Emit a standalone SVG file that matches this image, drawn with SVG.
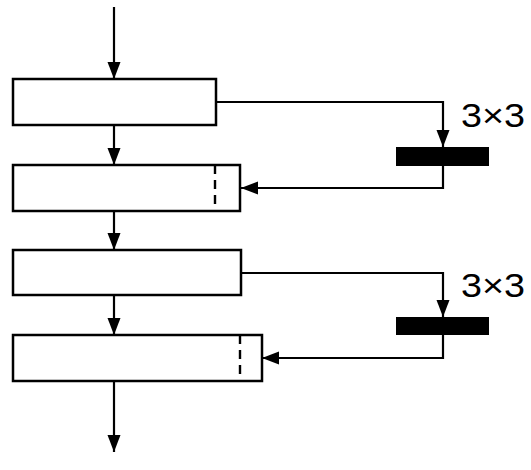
<svg xmlns="http://www.w3.org/2000/svg" width="531" height="470" viewBox="0 0 531 470">
  <style>
    .box { fill: #ffffff; stroke: #000000; stroke-width: 2.5; }
    .bar { fill: #000000; stroke: none; }
    .dash { stroke: #000000; stroke-width: 2.4; stroke-dasharray: 9 6; fill: none; }
    .conn { fill: none; stroke: #000000; stroke-width: 2.2; }
    .lbl { font-family: "Liberation Sans", Arial, sans-serif; font-size: 34px; fill: #000000; }
  </style>
  <defs>
    <marker id="arr" markerUnits="userSpaceOnUse" markerWidth="18" markerHeight="14" refX="17" refY="6.5" orient="auto">
      <path d="M0,0 L17,6.5 L0,13 Z" fill="#000000"/>
    </marker>
  </defs>

  <rect x="0" y="0" width="531" height="470" fill="#ffffff"/>

  <g id="connectors">
    <line class="conn" x1="114" y1="7" x2="114" y2="79" marker-end="url(#arr)"/>
    <line class="conn" x1="114" y1="125" x2="114" y2="165" marker-end="url(#arr)"/>
    <line class="conn" x1="114" y1="211" x2="114" y2="250" marker-end="url(#arr)"/>
    <line class="conn" x1="114" y1="295" x2="114" y2="335" marker-end="url(#arr)"/>
    <line class="conn" x1="114" y1="381" x2="114" y2="452" marker-end="url(#arr)"/>
    <polyline class="conn" points="216,102 443,102 443,147" marker-end="url(#arr)"/>
    <polyline class="conn" points="443,166 443,188 241,188" marker-end="url(#arr)"/>
    <polyline class="conn" points="241,273 443,273 443,317" marker-end="url(#arr)"/>
    <polyline class="conn" points="443,335 443,358 262,358" marker-end="url(#arr)"/>
  </g>

  <g id="block1">
    <rect class="box" x="13" y="79" width="203" height="46"/>
  </g>
  <g id="block2">
    <rect class="box" x="13" y="165" width="227" height="46"/>
    <line class="dash" x1="215" y1="165" x2="215" y2="211"/>
  </g>
  <g id="block3">
    <rect class="box" x="13" y="250" width="228" height="45"/>
  </g>
  <g id="block4">
    <rect class="box" x="13" y="335" width="249" height="46"/>
    <line class="dash" x1="240" y1="335" x2="240" y2="381"/>
  </g>
  <g id="conv1">
    <rect class="bar" x="396" y="147" width="93" height="19"/>
    <text class="lbl" x="461" y="127" textLength="64" lengthAdjust="spacingAndGlyphs">3×3</text>
  </g>
  <g id="conv2">
    <rect class="bar" x="396" y="317" width="93" height="18"/>
    <text class="lbl" x="461" y="297" textLength="64" lengthAdjust="spacingAndGlyphs">3×3</text>
  </g>
</svg>
